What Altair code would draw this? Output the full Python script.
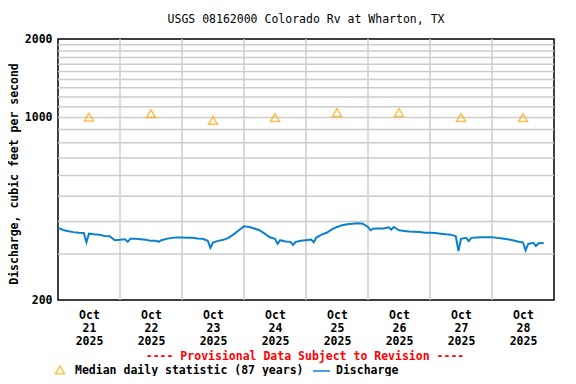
import altair as alt
import pandas as pd

# ---- data ----
discharge = [378, 371, 367, 364, 362, 361, 359, 357, 356, 352, 351, 339,
             340, 342, 343, 343, 342, 340, 337, 337, 339, 343, 346, 347,
             347, 346, 346, 344, 343, 337, 332, 337, 340, 346, 357, 370,
             383, 381, 376, 370, 359, 348, 343, 339, 335, 334, 334, 337,
             339, 341, 347, 356, 362, 373, 381, 387, 390, 392, 394, 392,
             381, 375, 376, 376, 380, 381, 370, 368, 366, 365, 364, 362,
             362, 361, 359, 357, 356, 351, 343, 346, 346, 347, 348, 348,
             348, 346, 344, 342, 339, 335, 332, 328, 331, 330, 331]
spike_times = ["2025-10-21T11:00", "2025-10-22T03:00", "2025-10-22T15:00",
               "2025-10-23T11:00", "2025-10-24T13:00", "2025-10-24T19:00",
               "2025-10-25T03:00", "2025-10-26T01:00", "2025-10-26T09:00",
               "2025-10-27T11:00", "2025-10-27T15:00", "2025-10-28T13:00",
               "2025-10-28T17:00"]
spike_values = [333, 334, 334, 317, 328, 325, 333, 370, 372, 308, 336, 310, 322]

day_labels = ["21", "22", "23", "24", "25", "26", "27", "28"]
median_values = [1005, 1035, 975, 1000, 1045, 1045, 1000, 1000]
grid_values = [300, 400, 500, 600, 700, 800, 900, 1000, 1100, 1200, 1300,
               1400, 1500, 1600, 1700, 1800, 1900]
y_labels = [200, 1000, 2000]

FONT = "DejaVu Sans Mono"
FS = 11.5
BLUE = "#0a80cf"
ORANGE = "#ffa500"
GRID = "#cccccc"

times = pd.date_range("2025-10-21 00:00", periods=len(discharge), freq="2h")
flow = pd.DataFrame({"time": times, "value": discharge})
spikes = pd.DataFrame({"time": pd.to_datetime(spike_times), "value": spike_values})
flow = pd.concat([flow, spikes]).sort_values("time").reset_index(drop=True)
flow["time"] = flow["time"].dt.strftime("%Y-%m-%dT%H:%M:%S")

medians = pd.DataFrame({
    "time": [f"2025-10-{d}T12:00:00" for d in day_labels],
    "value": median_values,
})
vgrid = pd.DataFrame({"time": [f"2025-10-{d}T00:00:00" for d in day_labels[1:]]})
hgrid = pd.DataFrame({"value": grid_values})

xscale = alt.Scale(domain=[alt.DateTime(year=2025, month=10, date=21, hours=0),
                           alt.DateTime(year=2025, month=10, date=29, hours=0)])
yscale = alt.Scale(type="log", domain=[200, 2000], nice=False)

noon_values = [alt.DateTime(year=2025, month=10, date=int(d), hours=12) for d in day_labels]

yaxis = alt.Axis(values=y_labels, title=None, grid=False, ticks=False,
                 domain=False, labelFont=FONT, labelFontSize=FS,
                 labelFontWeight="bold", labelColor="black",
                 labelPadding=6, labelOverlap=False, format="d")
xaxis = alt.Axis(values=noon_values, title=None, grid=False, ticks=False,
                 domain=False, labelFont=FONT, labelFontSize=FS,
                 labelFontWeight="bold", labelColor="black",
                 labelBaseline="top", labelPadding=9, labelLineHeight=13,
                 labelOverlap=False,
                 labelExpr="[timeFormat(datum.value,'%b'), timeFormat(datum.value,'%d'), timeFormat(datum.value,'%Y')]")

X = alt.X("time:T", scale=xscale, axis=xaxis)
Y = alt.Y("value:Q", scale=yscale, axis=yaxis)

hg = alt.Chart(hgrid).mark_rule(color=GRID, strokeWidth=1.5).encode(y=Y)
vg = alt.Chart(vgrid).mark_rule(color=GRID, strokeWidth=1.5).encode(x=X)

line = alt.Chart(flow).mark_line(color=BLUE, strokeWidth=2).encode(x=X, y=Y)

pts = alt.Chart(medians).mark_point(shape="triangle-up", color=ORANGE, filled=False,
                                     size=80, strokeWidth=1.5).encode(x=X, y=Y)

one = pd.DataFrame({"a": [0]})

def label(text, x, y, color="black", weight="bold", align="left", angle=0, size=FS):
    return alt.Chart(one).mark_text(text=text, font=FONT, fontSize=size, fontWeight=weight,
                                    color=color, align=align, baseline="middle",
                                    angle=angle).encode(x=alt.value(x), y=alt.value(y))

title = label("USGS 08162000 Colorado Rv at Wharton, TX", 248, -19, weight="normal", align="center")
ytitle = label("Discharge, cubic feet per second", -43, 135, align="center", angle=270)
prov = label("---- Provisional Data Subject to Revision ----", 247, 318, color="#ff0000", align="center")
leg_tri = alt.Chart(one).mark_point(shape="triangle-up", color=ORANGE, filled=False,
                                    size=80, strokeWidth=1.5).encode(x=alt.value(2), y=alt.value(331))
leg_txt1 = label("Median daily statistic (87 years)", 17, 332)
leg_line = alt.Chart(one).mark_rule(color=BLUE, strokeWidth=1.5).encode(
    x=alt.value(255), x2=alt.value(272), y=alt.value(332))
leg_txt2 = label("Discharge", 278, 332)

chart = alt.layer(hg, vg, line, pts, title, ytitle, prov, leg_tri, leg_txt1, leg_line, leg_txt2).properties(
    width=496, height=261,
    autosize=alt.AutoSizeParams(type="none"),
    padding={"left": 50, "top": 31, "right": 14, "bottom": 76},
).configure_view(stroke="black", strokeWidth=1.5)

chart.save("out.html", embed_options={"renderer": "svg", "actions": False})
